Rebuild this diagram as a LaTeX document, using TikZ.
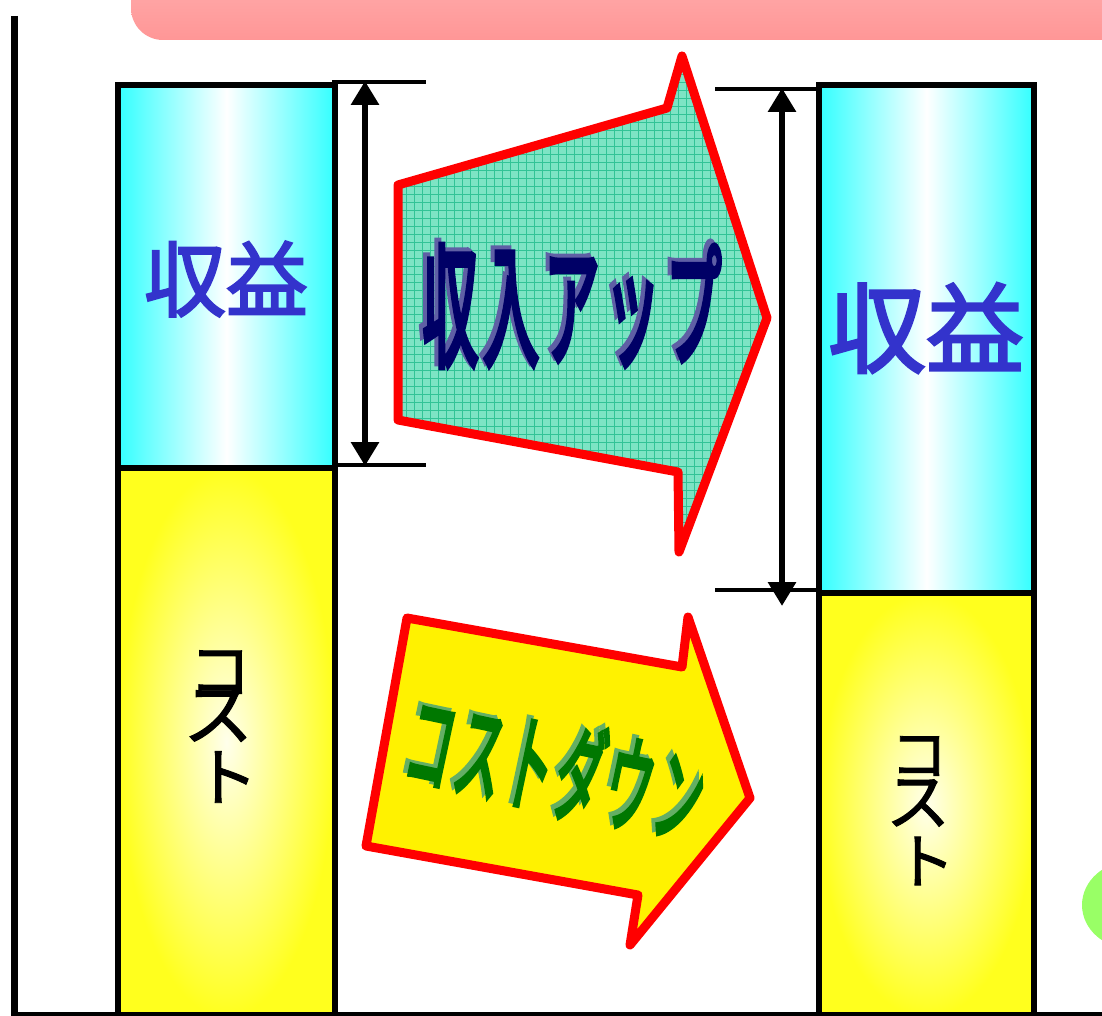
\documentclass[tikz,border=0pt]{standalone}
\usepackage{fontspec}
\newfontfamily\jp{Noto Sans CJK JP}[FakeBold=1.5]
\newfontfamily\jpm{Noto Sans CJK JP}[FakeBold=2.6]
\newfontfamily\jpb{Noto Sans CJK JP}[FakeBold=5, LetterSpace=9]
\usetikzlibrary{arrows.meta}
\definecolor{barcyan}{RGB}{51,255,255}
\definecolor{baryel}{RGB}{255,255,30}
\definecolor{yelcenter}{RGB}{255,255,235}
\definecolor{pinkL}{RGB}{255,190,190}
\definecolor{pinkD}{RGB}{255,150,150}
\definecolor{limeG}{RGB}{153,255,102}
\definecolor{mint}{RGB}{125,228,196}
\definecolor{mintgrid}{RGB}{50,195,150}
\definecolor{navy}{RGB}{0,0,102}
\definecolor{navyL}{RGB}{95,95,165}
\definecolor{dgreen}{RGB}{0,120,0}
\definecolor{lgreen}{RGB}{100,175,100}
\definecolor{labelblue}{RGB}{51,51,204}
\definecolor{arrred}{RGB}{255,0,0}
\tikzset{
  cyanbar/.style={draw=black, line width=6, left color=barcyan, right color=barcyan, middle color=white, anchor=north west, inner sep=0pt},
  yelbar/.style={draw=black, line width=6, inner color=yelcenter, outer color=baryel, anchor=north west, inner sep=0pt},
  dimline/.style={line width=3.5},
  dimarrow/.style={line width=6, {Triangle[width=27,length=24]}-{Triangle[width=27,length=24]}, shorten <=-1, shorten >=-1},
  arrshape/.style={draw=arrred, line width=9, line join=round},
  revlabel/.style={text=labelblue, inner sep=0pt},
  costchar/.style={text=black, inner sep=0pt}
}
\begin{document}
\begin{tikzpicture}[x=1pt,y=-1pt]
\useasboundingbox (0,0) rectangle (1102,1016);
\begin{scope}
  \clip (0,0) rectangle (1102,1016);
  % pink banner at the top
  \shade[top color=pinkL, bottom color=pinkD, rounded corners=32] (131,-80) rectangle (1180,40);
  % green shape at the right edge
  \fill[limeG] (1132,905) ellipse [x radius=50, y radius=44];
\end{scope}

% left bar
\node[cyanbar, minimum width=217, minimum height=383] (Lrev) at (115,82) {};
\node[yelbar, minimum width=217, minimum height=549] (Lcost) at (115,465) {};
% right bar
\node[cyanbar, minimum width=215, minimum height=508] (Rrev) at (816,82) {};
\node[yelbar, minimum width=215, minimum height=424] (Rcost) at (816,590) {};

% axis and base line
\coordinate (axtop) at (14,16);
\coordinate (axbot) at (14,1016);
\coordinate (baseL) at (12,1014);
\coordinate (baseR) at (1102,1014);
\draw[line width=7] (axtop) -- (axbot);
\draw[line width=3.5] (baseL) -- (baseR);

% labels in bars
\node[revlabel, font=\jpm\fontsize{82}{82}\selectfont] (Ltxt) at (226,279) {収益};
\node[revlabel, font=\jpm\fontsize{98}{98}\selectfont] (Rtxt) at (926,328) {収益};

\node[costchar, font=\jp\fontsize{62}{62}\selectfont] (Lc1) at (220,672) {コ};
\node[costchar, font=\jp\fontsize{70}{70}\selectfont] (Lc2) at (218,716) {ス};
\node[costchar, font=\jp\fontsize{64}{64}\selectfont] (Lc3) at (226,777) {ト};
\node[costchar, font=\jp\fontsize{57}{57}\selectfont] (Rc1) at (919,756) {コ};
\node[costchar, font=\jp\fontsize{64}{64}\selectfont] (Rc2) at (918,803) {ス};
\node[costchar, font=\jp\fontsize{60}{60}\selectfont] (Rc3) at (925,861) {ト};

% left dimension
\coordinate (ld1a) at (332,82);  \coordinate (ld1b) at (426,82);
\coordinate (ld2a) at (332,465); \coordinate (ld2b) at (426,465);
\coordinate (la1) at (365,82);   \coordinate (la2) at (365,465);
\draw[dimline] (ld1a) -- (ld1b);
\draw[dimline] (ld2a) -- (ld2b);
\draw[dimarrow] (la1) -- (la2);

% right dimension
\coordinate (rd1a) at (715,89);  \coordinate (rd1b) at (816,89);
\coordinate (rd2a) at (715,590); \coordinate (rd2b) at (816,590);
\coordinate (ra1) at (782,89);   \coordinate (ra2) at (782,605);
\draw[dimline] (rd1a) -- (rd1b);
\draw[dimline] (rd2a) -- (rd2b);
\draw[dimarrow] (ra1) -- (ra2);

% income-up arrow
\begin{scope}
  \clip (398,185) -- (667,108) -- (682,56) -- (767,318) -- (679,552) -- (678,472) -- (398,420) -- cycle;
  \fill[mint] (390,50) rectangle (770,560);
  \foreach \gx in {390,398,...,770} \draw[mintgrid, line width=0.7] (\gx,50) -- (\gx,560);
  \foreach \gy in {50,58,...,560} \draw[mintgrid, line width=0.7] (390,\gy) -- (770,\gy);
\end{scope}
\draw[arrshape] (398,185) -- (667,108) -- (682,56) -- (767,318) -- (679,552) -- (678,472) -- (398,420) -- cycle;
\node[text=navyL, inner sep=0pt, xscale=0.9, yscale=2.15, font=\jpb\fontsize{62}{62}\selectfont] (upS) at (568,302) {収入アップ};
\node[text=navy, inner sep=0pt, xscale=0.9, yscale=2.15, font=\jpb\fontsize{62}{62}\selectfont] (upT) at (572,306) {収入アップ};

% cost-down arrow
\draw[arrshape, fill=yellow] (407,618) -- (682,667) -- (688,617) -- (750,798) -- (630,945) -- (638,895) -- (366,846) -- cycle;
\node[text=lgreen, inner sep=0pt, rotate=-12, xscale=0.88, yscale=2.0, font=\jpb\fontsize{53}{53}\selectfont] (dnS) at (552,764) {コストダウン};
\node[text=dgreen, inner sep=0pt, rotate=-12, xscale=0.88, yscale=2.0, font=\jpb\fontsize{53}{53}\selectfont] (dnT) at (556,768) {コストダウン};
\end{tikzpicture}
\end{document}
